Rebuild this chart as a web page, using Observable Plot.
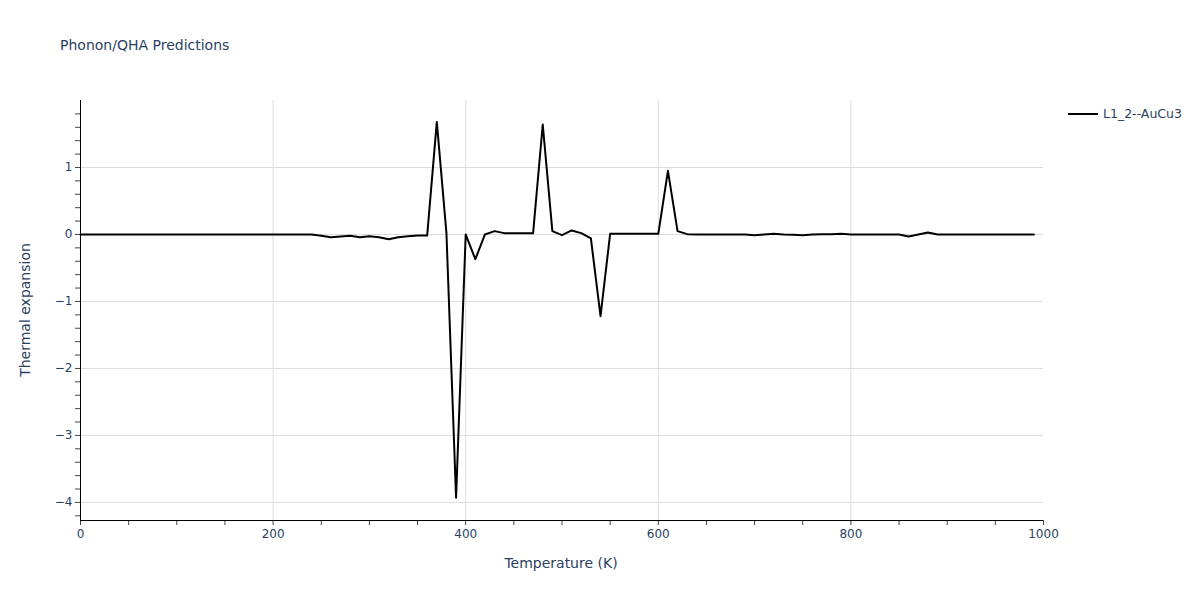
<!DOCTYPE html>
<html>
<head>
<meta charset="utf-8">
<script src="https://cdn.jsdelivr.net/npm/d3@7"></script>
<script src="https://cdn.jsdelivr.net/npm/@observablehq/plot@0.6"></script>
<style>
  html, body { margin: 0; padding: 0; background: #fff; }
  #wrap { position: relative; width: 1200px; height: 600px; font-family: "DejaVu Sans", sans-serif; color: #2a3f5f; }
  #title { position: absolute; left: 60px; top: 37px; font-size: 14px; white-space: nowrap; }
  #legend { position: absolute; left: 1068px; top: 106px; font-size: 12.5px; display: flex; align-items: center; white-space: nowrap; }
  #legend .sw { width: 30px; height: 2px; background: #000; margin-right: 5px; }
  svg { position: absolute; left: 0; top: 0; }
</style>
</head>
<body>
<div id="wrap">
  <div id="title">Phonon/QHA Predictions</div>
  <div id="legend"><div class="sw"></div><span>L1_2--AuCu3</span></div>
</div>
<script>
const seriesName = "L1_2--AuCu3";
const temperature = [
  0, 10, 20, 30, 40, 50, 60, 70, 80, 90,
  100, 110, 120, 130, 140, 150, 160, 170, 180, 190,
  200, 210, 220, 230, 240, 250, 260, 270, 280, 290,
  300, 310, 320, 330, 340, 350, 360, 370, 380, 390,
  400, 410, 420, 430, 440, 450, 460, 470, 480, 490,
  500, 510, 520, 530, 540, 550, 560, 570, 580, 590,
  600, 610, 620, 630, 640, 650, 660, 670, 680, 690,
  700, 710, 720, 730, 740, 750, 760, 770, 780, 790,
  800, 810, 820, 830, 840, 850, 860, 870, 880, 890,
  900, 910, 920, 930, 940, 950, 960, 970, 980, 990
];
const thermalExpansion = [
  0, 0, 0, 0, 0, 0, 0, 0, 0, 0,
  0, 0, 0, 0, 0, 0, 0, 0, 0, 0,
  0, 0, 0, 0, 0, -0.02, -0.04, -0.03, -0.02, -0.04,
  -0.025, -0.04, -0.07, -0.04, -0.025, -0.015, -0.015, 1.68, 0.02, -3.93,
  0.0, -0.37, 0.0, 0.05, 0.02, 0.02, 0.02, 0.02, 1.64, 0.05,
  -0.01, 0.06, 0.02, -0.06, -1.22, 0.01, 0.01, 0.01, 0.01, 0.01,
  0.01, 0.95, 0.05, 0.005, 0, 0, 0, 0, 0, 0,
  -0.01, 0, 0.01, 0, -0.005, -0.01, 0, 0.005, 0.005, 0.01,
  0, 0, 0, 0, 0, 0, -0.03, 0, 0.03, 0,
  0, 0, 0, 0, 0, 0, 0, 0, 0, 0
];
const xTickLabels = [0, 200, 400, 600, 800, 1000];
const yTickLabels = [-4, -3, -2, -1, 0, 1];
const xLabel = "Temperature (K)";
const yLabel = "Thermal expansion";

const data = temperature.map((t, i) => ({t, v: thermalExpansion[i], s: seriesName}));
const xMinor = d3.range(0, 21).map(i => i * 50);
const yMinor = d3.range(-21, 10).map(i => i / 5);
const fmtInt = d => String(Math.round(d)).replace("-", "\u2212");

const chart = Plot.plot({
  width: 1200,
  height: 600,
  marginLeft: 80,
  marginRight: 157,
  marginTop: 100,
  marginBottom: 80,
  style: {fontFamily: "DejaVu Sans, sans-serif", fontSize: "12px", color: "#2a3f5f", background: "transparent"},
  x: {domain: [0, 1000]},
  y: {domain: [-4.27, 2.0]},
  marks: [
    Plot.gridX(xTickLabels.filter(d => d > 0 && d < 1000), {stroke: "#dddddd", strokeOpacity: 1, strokeWidth: 1}),
    Plot.gridY(yTickLabels, {stroke: "#dddddd", strokeOpacity: 1, strokeWidth: 1}),
    Plot.axisX({ticks: xMinor, tickSize: 5, tickPadding: 4, stroke: "#444", tickFormat: d => xTickLabels.includes(d) ? fmtInt(d) : "", fill: "#2a3f5f", label: null}),
    Plot.axisY({ticks: yMinor, tickSize: 5, tickPadding: 3, stroke: "#444", tickFormat: d => { const r = Math.round(d * 1000) / 1000; return yTickLabels.includes(r) ? fmtInt(r) : ""; }, fill: "#2a3f5f", label: null}),
    Plot.ruleX([0], {stroke: "#000", strokeWidth: 1}),
    Plot.ruleY([-4.27], {stroke: "#000", strokeWidth: 1}),
    Plot.lineY(data, {x: "t", y: "v", stroke: "#000", strokeWidth: 2})
  ]
});
document.getElementById("wrap").appendChild(chart);

const svg = d3.select(chart);
svg.append("text").attr("x", 561).attr("y", 568).attr("text-anchor", "middle")
  .attr("fill", "#2a3f5f").style("font-size", "14px").text(xLabel);
svg.append("text").attr("transform", "translate(30,310) rotate(-90)").attr("text-anchor", "middle")
  .attr("fill", "#2a3f5f").style("font-size", "14px").text(yLabel);
</script>
</body>
</html>
